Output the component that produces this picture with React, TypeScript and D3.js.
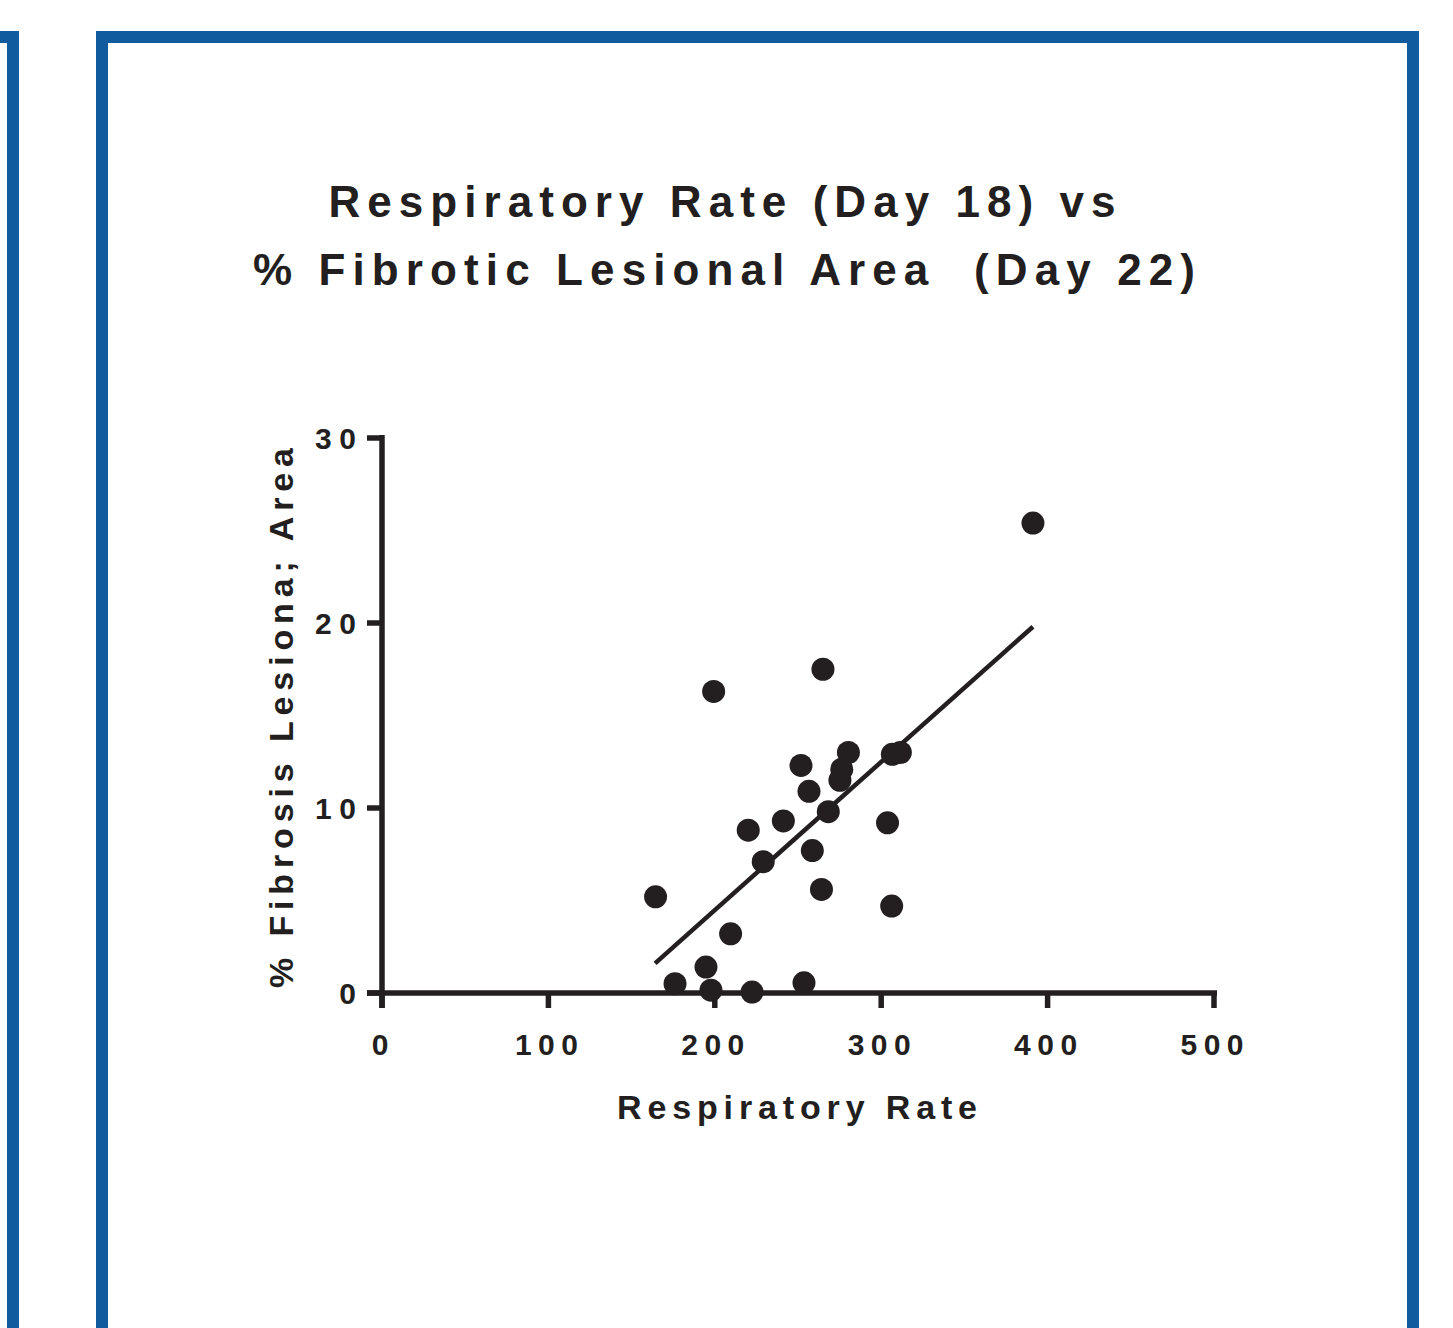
import { line, scaleLinear } from 'd3'

// respiratory rate (day 18) per animal
const respiratoryRate = [
  391.2, 265.0, 199.3, 280.3, 306.7, 311.5, 251.8, 276.3, 275.2, 256.6, 268.2, 241.2,
  220.1, 303.8, 258.6, 229.1, 264.1, 164.4, 306.3, 209.5, 194.7, 176.1, 197.7, 222.4, 253.6,
]
// % fibrotic lesional area (day 22)
const fibrosisArea = [
  25.4, 17.5, 16.3, 13.0, 12.9, 13.0, 12.3, 12.1, 11.5, 10.9, 9.8, 9.3,
  8.8, 9.2, 7.7, 7.1, 5.6, 5.2, 4.7, 3.2, 1.4, 0.5, 0.15, 0.05, 0.55,
]
const fitLine = [
  { x: 164.1, y: 1.6 },
  { x: 391.2, y: 19.8 },
]
const xTickValues = [0, 100, 200, 300, 400, 500]
const yTickValues = [0, 10, 20, 30]
const titleLines = ['Respiratory Rate (Day 18) vs', '% Fibrotic Lesional Area  (Day 22)']

const width = 1453
const height = 1328
const ink = '#231f20'
const blue = '#105a9e'
const font = '"Liberation Sans", Arial, sans-serif'

const x = scaleLinear().domain([0, 500]).range([382, 1214])
const y = scaleLinear().domain([0, 30]).range([993, 438])

const App = () => {
  const fitPath = line<{ x: number; y: number }>()
    .x((d) => x(d.x))
    .y((d) => y(d.y))(fitLine) ?? ''

  return (
    <svg
      width={width}
      height={height}
      viewBox={`0 0 ${width} ${height}`}
      style={{ position: 'absolute', left: 0, top: 0, background: 'white' }}
    >
      {/* panel frames */}
      <rect x={-100} y={37} width={113} height={2000} fill="none" stroke={blue} strokeWidth={12} />
      <rect x={102} y={37} width={1311} height={2000} fill="none" stroke={blue} strokeWidth={12} />

      <g fontFamily={font} fontWeight="bold" fill={ink}>
        <text x={722} y={217} fontSize={44} textAnchor="middle" textLength={787} lengthAdjust="spacing">
          {titleLines[0]}
        </text>
        <text
          x={724}
          y={285}
          fontSize={44}
          textAnchor="middle"
          textLength={942}
          lengthAdjust="spacing"
          style={{ whiteSpace: 'pre' }}
        >
          {titleLines[1]}
        </text>

        {/* y axis */}
        <line x1={x(0)} x2={x(0)} y1={y(0) + 15} y2={y(30) - 3} stroke={ink} strokeWidth={5.5} />
        {yTickValues.map((v) => (
          <g key={v}>
            <line x1={x(0) - 15} x2={x(0)} y1={y(v)} y2={y(v)} stroke={ink} strokeWidth={5.5} />
            <text
              x={356}
              y={y(v) + 11}
              fontSize={30}
              textAnchor="end"
              textLength={v === 0 ? undefined : 41}
              lengthAdjust="spacing"
            >
              {v}
            </text>
          </g>
        ))}

        {/* x axis */}
        <line x1={x(0) - 15} x2={x(500) + 3} y1={y(0)} y2={y(0)} stroke={ink} strokeWidth={5.5} />
        {xTickValues.map((v) => (
          <g key={v}>
            <line x1={x(v)} x2={x(v)} y1={y(0)} y2={y(0) + 15} stroke={ink} strokeWidth={5.5} />
            <text
              x={x(v) - 2}
              y={1055}
              fontSize={30}
              textAnchor="middle"
              textLength={v === 0 ? undefined : 63}
              lengthAdjust="spacing"
            >
              {v}
            </text>
          </g>
        ))}

        <text x={797} y={1119} fontSize={34} textAnchor="middle" textLength={360} lengthAdjust="spacing">
          Respiratory Rate
        </text>
        <text
          transform="translate(293, 718) rotate(-90)"
          fontSize={34}
          textAnchor="middle"
          textLength={540}
          lengthAdjust="spacing"
        >
          % Fibrosis Lesiona; Area
        </text>
      </g>

      <path d={fitPath} fill="none" stroke={ink} strokeWidth={4.5} />

      {respiratoryRate.map((rr, i) => (
        <circle key={i} cx={x(rr)} cy={y(fibrosisArea[i])} r={11.5} fill={ink} />
      ))}
    </svg>
  )
}

export default App
